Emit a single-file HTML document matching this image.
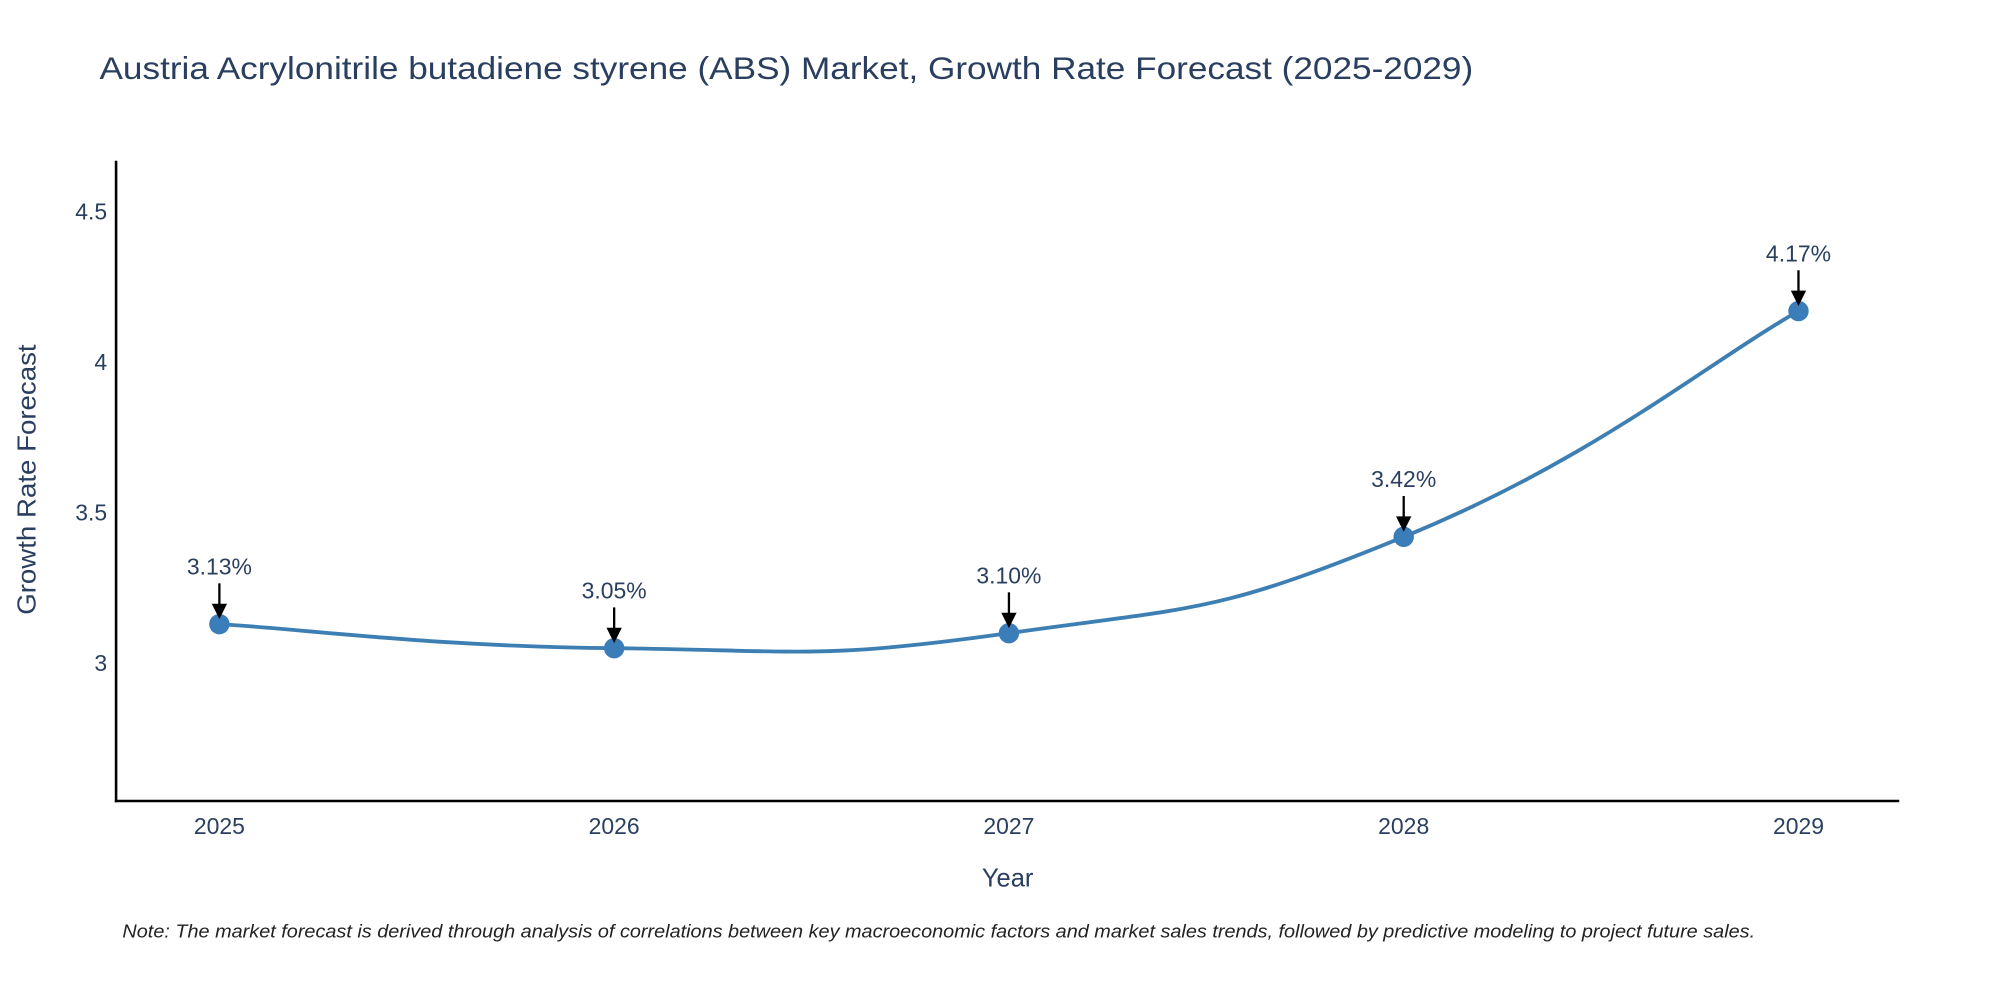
<!DOCTYPE html>
<html><head><meta charset="utf-8"><style>
html,body{margin:0;padding:0;background:#fff;}
svg{display:block;font-family:"Liberation Sans",sans-serif;}
</style></head><body>
<svg id="chart" width="2000" height="1000" viewBox="0 0 1568 784">
<text x="78" y="62" font-size="25" fill="#2a3f5f" textLength="1077" lengthAdjust="spacingAndGlyphs">Austria Acrylonitrile butadiene styrene (ABS) Market, Growth Rate Forecast (2025-2029)</text>
<g id="yticks"></g><g id="xticks"></g>
<line x1="91" y1="126" x2="91" y2="629" stroke="#000" stroke-width="2"/>
<line x1="90" y1="628" x2="1489" y2="628" stroke="#000" stroke-width="2"/>
<text transform="translate(28,376) rotate(-90)" text-anchor="middle" font-size="20" fill="#2a3f5f" textLength="212" lengthAdjust="spacingAndGlyphs">Growth Rate Forecast</text>
<text x="790" y="695" text-anchor="middle" font-size="20" fill="#2a3f5f">Year</text>
<text x="96" y="735" font-size="14.5" font-style="italic" fill="#222" textLength="1280" lengthAdjust="spacingAndGlyphs">Note: The market forecast is derived through analysis of correlations between key macroeconomic factors and market sales trends, followed by predictive modeling to project future sales.</text>
<g id="series"></g>
</svg>
<script>
const years = [2025, 2026, 2027, 2028, 2029];
const values = [3.13, 3.05, 3.10, 3.42, 4.17];
const labels = ["3.13%", "3.05%", "3.10%", "3.42%", "4.17%"];
const yTicks = [3, 3.5, 4, 4.5];
const yTickLabels = ["3", "3.5", "4", "4.5"];

const NS = "http://www.w3.org/2000/svg";
function xs(yr){ return 172 + (yr - 2025) * 309.5; }
function ys(v){ return 520 - (v - 3) * 236; }
function mk(tag, attrs, parent){ const e=document.createElementNS(NS,tag); for(const k in attrs) e.setAttribute(k,attrs[k]); parent.appendChild(e); return e; }

const yt = document.getElementById('yticks');
yTicks.forEach((t,i)=>{
  const e = mk('text',{x:84,y:ys(t)+6,'text-anchor':'end','font-size':18,fill:'#2a3f5f'},yt);
  e.textContent = yTickLabels[i];
  
  
});
const xt = document.getElementById('xticks');
years.forEach(yr=>{
  const e = mk('text',{x:xs(yr),y:654,'text-anchor':'middle','font-size':18,fill:'#2a3f5f'},xt);
  e.textContent = String(yr);
  
  
});

const g = document.getElementById('series');
const pts = years.map((yr,i)=>[xs(yr), ys(values[i])]);
let d = `M${pts[0][0]},${pts[0][1]}`;
const s = 0.24;
for(let i=0;i<pts.length-1;i++){
  const p0=pts[Math.max(i-1,0)], p1=pts[i], p2=pts[i+1], p3=pts[Math.min(i+2,pts.length-1)];
  const c1=[p1[0]+(p2[0]-p0[0])*s, p1[1]+(p2[1]-p0[1])*s];
  const c2=[p2[0]-(p3[0]-p1[0])*s, p2[1]-(p3[1]-p1[1])*s];
  d += ` C${c1[0]},${c1[1]} ${c2[0]},${c2[1]} ${p2[0]},${p2[1]}`;
}
const line = mk('path',{d:d,fill:'none',stroke:'#3d7fb2','stroke-width':3},g);


pts.forEach((p,i)=>{
  const c = mk('circle',{cx:p[0],cy:p[1],r:8,fill:'#3a7db8'},g);
  
  
  const a = mk('line',{x1:p[0],y1:p[1]-32,x2:p[0],y2:p[1]-14,stroke:'#000','stroke-width':1.8},g);
  
  
  const h = mk('polygon',{points:`${p[0]-6},${p[1]-16} ${p[0]+6},${p[1]-16} ${p[0]},${p[1]-4}`,fill:'#000'},g);
  
  
  const t = mk('text',{x:p[0],y:p[1]-39,'text-anchor':'middle','font-size':18,fill:'#2a3f5f'},g);
  t.textContent = labels[i];
  
  
});
</script>
</body></html>
